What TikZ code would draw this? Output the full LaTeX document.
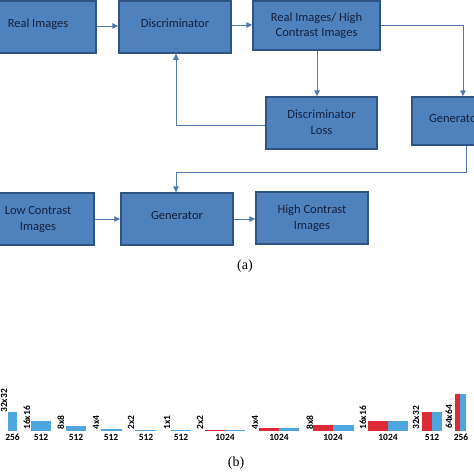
\documentclass[tikz,border=0pt]{standalone}
\usepackage{fontspec}
\setmainfont{Carlito}
\newfontfamily\capfont{Liberation Serif}
\usetikzlibrary{arrows.meta}
\definecolor{boxfill}{HTML}{4F81BD}
\definecolor{boxline}{HTML}{2E5483}
\definecolor{boxtext}{HTML}{14223F}
\definecolor{arrowc}{HTML}{5079AE}
\definecolor{barblue}{HTML}{4DA6DE}
\definecolor{barred}{HTML}{DD2A36}
\tikzset{
  box/.style={draw=boxline, fill=boxfill, line width=1.5pt, text=boxtext,
    font=\fontsize{12.5}{15}\selectfont, align=center, inner sep=0pt},
  conn/.style={draw=arrowc, line width=1pt},
  arr/.style={conn, -{Triangle[length=6pt,width=5.5pt]}},
  bluebar/.style={fill=barblue, draw=none},
  redbar/.style={fill=barred, draw=none},
  reslabel/.style={rotate=90, anchor=west, inner sep=0pt, font=\bfseries\fontsize{9.5}{10}\selectfont},
  chlabel/.style={inner sep=0pt, font=\bfseries\fontsize{9.5}{10}\selectfont},
  caplabel/.style={font=\capfont\fontsize{14}{16}\selectfont, inner sep=0pt}
}
\begin{document}
\begin{tikzpicture}[x=1pt,y=-1pt]
\useasboundingbox (0,0) rectangle (474,474);
\begin{scope}
\clip (0,0) rectangle (474,474);
% boxes (a)
\node[box, minimum width=116pt, minimum height=52pt] (ri) at (38,27) {\raisebox{7pt}{Real Images}};
\node[box, minimum width=112pt, minimum height=52pt] (disc) at (175,27) {\raisebox{7pt}{Discriminator}};
\node[box, minimum width=127pt, minimum height=49pt] (rihc) at (316.5,25.5) {Real Images/ High\\Contrast Images};
\node[box, minimum width=111pt, minimum height=52pt] (dl) at (321.5,123) {\raisebox{2.5pt}{\begin{tabular}{@{}c@{}}Discriminator\\[1pt]Loss\end{tabular}}};
\node[box, minimum width=86pt, minimum height=48pt] (genr) at (455,121) {\raisebox{6pt}{Generator}};
\node[box, minimum width=112pt, minimum height=52pt] (lci) at (38,219) {\raisebox{2.5pt}{\begin{tabular}{@{}c@{}}Low Contrast\\[1pt]Images\end{tabular}}};
\node[box, minimum width=112pt, minimum height=52pt] (gen) at (177,219) {\raisebox{7pt}{Generator}};
\node[box, minimum width=112pt, minimum height=52pt] (hci) at (312,218) {\raisebox{1.5pt}{\begin{tabular}{@{}c@{}}High Contrast\\[1pt]Images\end{tabular}}};
% connectors
\coordinate (c1) at (463,25);
\coordinate (c2) at (176,125);
\coordinate (c3) at (466,172);
\coordinate (c4) at (176,172);
\draw[arr] (ri.east |- 0,26) -- (disc.west |- 0,26);
\draw[arr] (disc.east |- 0,25) -- (rihc.west |- 0,25);
\draw[arr] (rihc.east |- c1) -- (c1) -- (c1 |- genr.north);
\draw[arr] (rihc.south -| 317,0) -- (dl.north -| 317,0);
\draw[arr] (dl.west |- c2) -- (c2) -- (c2 |- disc.south);
\draw[arr] (genr.south -| c3) -- (c3) -- (c4) -- (c4 |- gen.north);
\draw[arr] (lci.east |- 0,219) -- (gen.west |- 0,219);
\draw[arr] (gen.east |- 0,219) -- (hci.west |- 0,219);
\node[caplabel] (capa) at (245,266) {(a)};
% bars (b)
\fill[bluebar] (8,412) rectangle (17,431);
\fill[bluebar] (31,421) rectangle (51,431);
\fill[bluebar] (66,426) rectangle (86,431);
\fill[bluebar] (101,428.5) rectangle (122,431);
\fill[bluebar] (135,429.5) rectangle (156,431);
\fill[bluebar] (171,430) rectangle (191,431);
\fill[redbar] (205,429.5) rectangle (225,431);
\fill[bluebar] (225,429.5) rectangle (245,431);
\fill[redbar] (259,428) rectangle (279,431);
\fill[bluebar] (279,428) rectangle (299,431);
\fill[redbar] (313,425) rectangle (333,431);
\fill[bluebar] (333,425) rectangle (354,431);
\fill[redbar] (368,421) rectangle (388,431);
\fill[bluebar] (388,421) rectangle (408,431);
\fill[redbar] (422,412) rectangle (432,431);
\fill[bluebar] (432,412) rectangle (442,431);
\fill[redbar] (455,394) rectangle (460,431);
\fill[bluebar] (460,394) rectangle (466,431);
% resolution labels
\node[reslabel] (r1) at (4,413) {32x32};
\node[reslabel] (r2) at (27,430) {16x16};
\node[reslabel] (r3) at (61,430) {8x8};
\node[reslabel] (r4) at (96,430) {4x4};
\node[reslabel] (r5) at (131,430) {2x2};
\node[reslabel] (r6) at (167,430) {1x1};
\node[reslabel] (r7) at (200,430) {2x2};
\node[reslabel] (r8) at (255,430) {4x4};
\node[reslabel] (r9) at (310,430) {8x8};
\node[reslabel] (r10) at (363,430) {16x16};
\node[reslabel] (r11) at (416,430) {32x32};
\node[reslabel] (r12) at (449,429) {64x64};
% channel labels
\node[chlabel] (n1) at (12.5,437) {256};
\node[chlabel] (n2) at (41,437) {512};
\node[chlabel] (n3) at (76,437) {512};
\node[chlabel] (n4) at (111,437) {512};
\node[chlabel] (n5) at (146,437) {512};
\node[chlabel] (n6) at (181,437) {512};
\node[chlabel] (n7) at (225,437) {1024};
\node[chlabel] (n8) at (279,437) {1024};
\node[chlabel] (n9) at (333,437) {1024};
\node[chlabel] (n10) at (388,437.5) {1024};
\node[chlabel] (n11) at (432,437.5) {512};
\node[chlabel] (n12) at (461,437.5) {256};
\node[caplabel] (capb) at (236,463) {(b)};
\end{scope}
\end{tikzpicture}
\end{document}
